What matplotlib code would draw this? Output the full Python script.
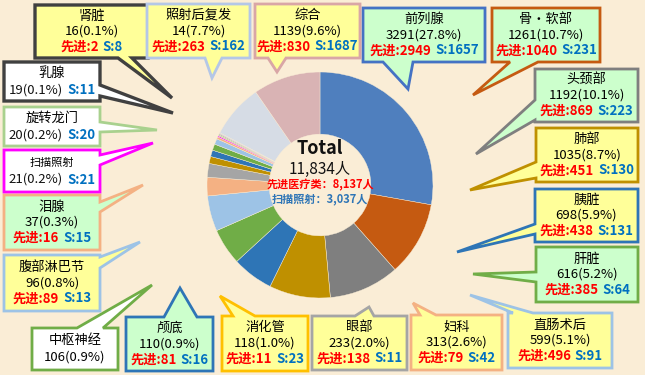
import numpy as np
import matplotlib
matplotlib.use('Agg')
from matplotlib import pyplot as plt
from matplotlib.patches import Polygon

plt.rcParams['font.family'] = ['Noto Sans CJK SC', 'DejaVu Sans']

# data, clockwise from 12 o'clock
names = ['前列腺', '骨·软部', '头颈部', '肺部', '胰脏', '肝脏', '直肠术后', '妇科', '眼部', '消化管',
         '颅底', '中枢神经', '腹部淋巴节', '泪腺', '扫描照射', '旋转龙门', '乳腺', '肾脏', '照射后复发', '综合']
counts = [3291, 1261, 1192, 1035, 698, 616, 599, 313, 233, 118,
          110, 106, 96, 37, 21, 20, 19, 16, 14, 1139]
# slice sizes (照射后复发 label says 14, but its slice is 7.7% of the total)
sizes = [3291, 1261, 1192, 1035, 698, 616, 599, 313, 233, 118,
         110, 106, 96, 37, 21, 20, 19, 16, 914, 1139]
pcts = ['27.8', '10.7', '10.1', '8.7', '5.9', '5.2', '5.1', '2.6', '2.0', '1.0',
        '0.9', '0.9', '0.8', '0.3', '0.2', '0.2', '0.1', '0.1', '7.7', '9.6']
adv = [2949, 1040, 869, 451, 438, 385, 496, 79, 138, 11,
       81, None, 89, 16, None, None, None, 2, 263, 830]
scan = [1657, 231, 223, 130, 131, 64, 91, 42, 11, 23,
        16, None, 13, 15, 21, 20, 11, 8, 162, 1687]
slice_colors = ['#4F7FBE', '#C55A11', '#7F7F7F', '#BF9000', '#2E75B6', '#70AD47', '#9DC3E6', '#F4B183',
                '#A5A5A5', '#BF9000', '#2E75B6', '#70AD47', '#9DC3E6', '#F4B183', '#FF00FF', '#A9D18E',
                '#A5A5A5', '#B4C7E7', '#D6DCE5', '#D9B3B4']
total_text = ['Total', '11,834人', '先进医疗类：8,137人', '扫描照射：3,037人']

W, H = 645, 375
BG = '#FAEDD6'
YEL, GRN, WHT = '#FFFF99', '#CCFFCC', '#FFFFFF'
RED, BLUE = '#FF0000', '#0070C0'

# callout layout (pixel coords, y down): box, pointer side, base, tip, face, edge
layout = {
    '肾脏':     ((35, 5, 148, 58), 'bottom', (118, 132), (172, 98), YEL, '#404040'),
    '照射后复发': ((147, 4, 250, 58), 'bottom', (205, 222), (212, 78), YEL, '#B4C7E7'),
    '综合':     ((255, 4, 360, 58), 'bottom', (268, 286), (277, 72), YEL, '#D9A6A6'),
    '前列腺':   ((363, 8, 485, 62), 'bottom', (383, 413), (408, 89), GRN, '#4472C4'),
    '骨·软部':  ((492, 8, 600, 62), 'bottom', (510, 538), (473, 95), GRN, '#C55A11'),
    '头颈部':   ((535, 69, 638, 122), 'left', (100, 120), (476, 154), GRN, '#7F7F7F'),
    '肺部':     ((536, 128, 638, 182), 'left', (162, 178), (470, 190), YEL, '#BF9000'),
    '胰脏':     ((535, 189, 638, 242), 'left', (224, 234), (457, 252), YEL, '#2E75B6'),
    '肝脏':     ((536, 247, 638, 302), 'left', (272, 282), (473, 274), GRN, '#70AD47'),
    '直肠术后': ((508, 313, 612, 368), 'top', (513, 533), (470, 295), YEL, '#9DC3E6'),
    '妇科':     ((411, 315, 502, 370), 'top', (420, 436), (413, 303), YEL, '#F4B183'),
    '眼部':     ((312, 316, 407, 370), 'top', (355, 374), (369, 307), YEL, '#A5A5A5'),
    '消化管':   ((222, 316, 308, 371), 'top', (233, 255), (220, 296), YEL, '#FFC000'),
    '颅底':     ((126, 317, 213, 371), 'top', (164, 197), (180, 288), GRN, '#2E75B6'),
    '中枢神经': ((32, 328, 118, 370), 'top', (77, 103), (152, 285), WHT, '#70AD47'),
    '腹部淋巴节': ((4, 255, 100, 311), 'right', (257, 268), (140, 242), YEL, '#9DC3E6'),
    '泪腺':     ((4, 195, 100, 250), 'right', (202, 212), (143, 185), GRN, '#F4B183'),
    '扫描照射': ((4, 150, 100, 192), 'right', (155, 165), (153, 143), WHT, '#FF00FF'),
    '旋转龙门': ((4, 107, 100, 146), 'right', (122, 132), (157, 130), WHT, '#A9D18E'),
    '乳腺':     ((4, 62, 100, 101), 'right', (85, 96), (173, 113), WHT, '#404040'),
}

fig = plt.figure(figsize=(6.45, 3.75), dpi=100, facecolor=BG)
ax = fig.add_axes([0, 0, 1, 1])
ax.set_facecolor(BG)
renderer = fig.canvas.get_renderer()


def Y(y):
    return H - y


def callout(box, side, base, tip, face, edge):
    x0, y0, x1, y1 = box
    a, b = base
    pts = [(x0, y0)]
    if side == 'top':
        pts += [(a, y0), tip, (b, y0)]
    pts.append((x1, y0))
    if side == 'right':
        pts += [(x1, a), tip, (x1, b)]
    pts.append((x1, y1))
    if side == 'bottom':
        pts += [(b, y1), tip, (a, y1)]
    pts.append((x0, y1))
    if side == 'left':
        pts += [(x0, b), tip, (x0, a)]
    pts = [(x, Y(y)) for x, y in pts]
    lw = 2.4 if edge == '#404040' else 2.0
    ax.add_patch(Polygon(pts, closed=True, facecolor=face, edgecolor=edge, lw=lw,
                         joinstyle='miter', zorder=3))


def text_line(cx, y, segs, size, gap=4):
    ts = [ax.text(0, Y(y), s, color=c, fontsize=size, weight=w, ha='left', va='center', zorder=5)
          for s, c, w in segs]
    widths = [t.get_window_extent(renderer).width for t in ts]
    x = cx - (sum(widths) + gap * (len(ts) - 1)) / 2
    for t, w in zip(ts, widths):
        t.set_x(x)
        x += w + gap


# donut
ax.pie(sizes, colors=slice_colors, startangle=90, counterclock=False, radius=113, center=(320, Y(185)),
       wedgeprops=dict(width=113 * 0.55, edgecolor=BG, linewidth=0.3))
ax.set_xlim(0, W)
ax.set_ylim(0, H)
ax.set_aspect('auto')
ax.axis('off')

# center text
ax.text(320, Y(149), total_text[0], fontsize=13, weight='bold', ha='center', va='center', color='#111111')
ax.text(320, Y(169), total_text[1], fontsize=11, ha='center', va='center', color='#111111')
ax.text(320, Y(185), total_text[2], fontsize=8, weight='bold', ha='center', va='center', color=RED)
ax.text(320, Y(199), total_text[3], fontsize=8, weight='bold', ha='center', va='center', color='#2E75B6')

# callouts
for i, name in enumerate(names):
    box, side, base, tip, face, edge = layout[name]
    callout(box, side, base, tip, face, edge)
    cx = (box[0] + box[2]) / 2
    cy = (box[1] + box[3]) / 2
    fs = 9.5
    count_txt = '%d(%s%%)' % (counts[i], pcts[i])
    if adv[i] is not None:
        ax.text(cx, Y(cy - 15.5), name, fontsize=fs, ha='center', va='center', zorder=5)
        ax.text(cx, Y(cy), count_txt, fontsize=fs, ha='center', va='center', zorder=5)
        text_line(cx, cy + 15.5, [('先进:%d' % adv[i], RED, 'bold'), ('S:%d' % scan[i], BLUE, 'bold')], fs)
    else:
        tfs = 8 if name == '扫描照射' else fs
        ax.text(cx, Y(cy - 8.5), name, fontsize=tfs, ha='center', va='center', zorder=5)
        if scan[i] is not None:
            text_line(cx, cy + 8.5, [(count_txt, '#111111', 'normal'), ('S:%d' % scan[i], BLUE, 'bold')], fs)
        else:
            ax.text(cx, Y(cy + 8.5), count_txt, fontsize=fs, ha='center', va='center', zorder=5)

plt.savefig('out.png', dpi=100, facecolor=fig.get_facecolor())
